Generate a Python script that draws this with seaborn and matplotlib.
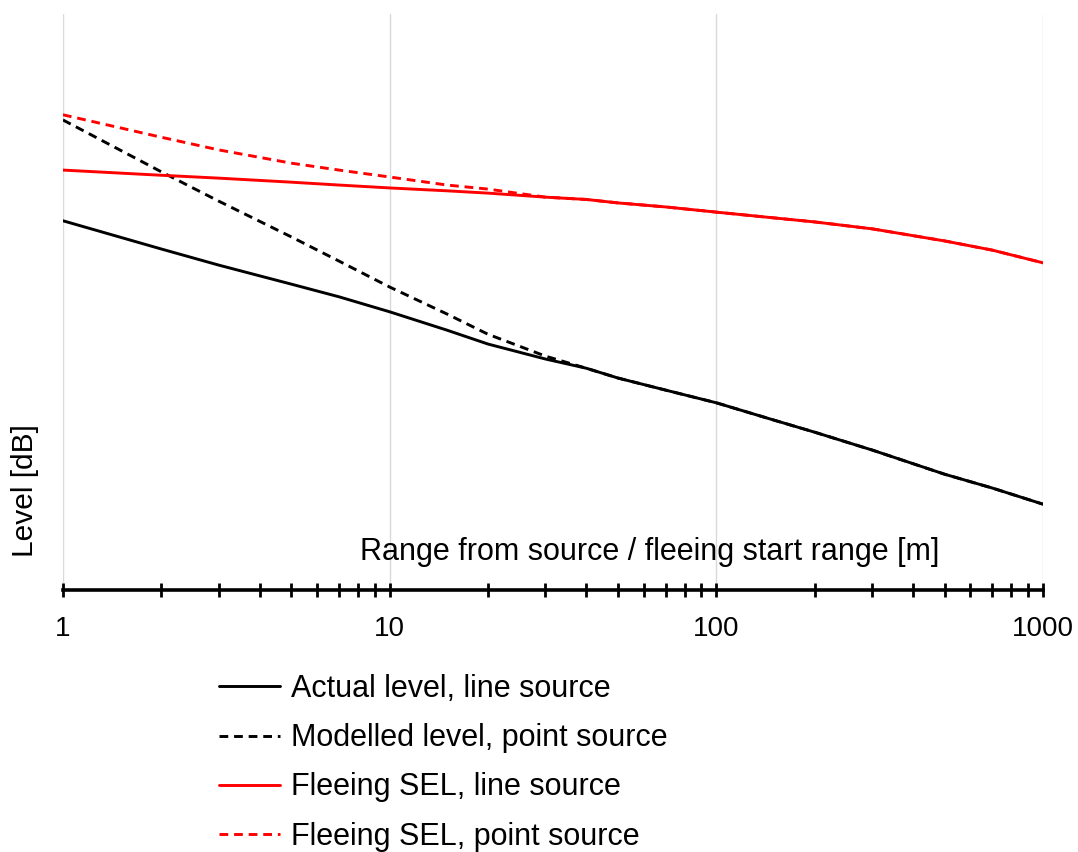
import numpy as np
import pandas as pd
import matplotlib
matplotlib.use("Agg")
import matplotlib.pyplot as plt
import matplotlib.ticker as mticker
import seaborn as sns

# Range [m]
ranges = [1, 2, 3, 5, 7, 10, 15, 20, 30, 40, 50, 70, 100, 150, 200, 300, 500, 700, 1000]

# Levels [dB, relative]
actual_line = [64.1, 59.2, 56.4, 53.1, 50.9, 48.3, 45.1, 42.7, 40.1, 38.5,
               36.8, 34.7, 32.5, 29.5, 27.4, 24.3, 20.1, 17.7, 14.9]
modelled_point = [81.6, 72.6, 67.5, 61.3, 57.1, 52.6, 47.9, 44.4, 40.6, 38.5,
                  36.8, 34.7, 32.5, 29.5, 27.4, 24.3, 20.1, 17.7, 14.9]
fleeing_line = [72.9, 72.0, 71.5, 70.8, 70.3, 69.8, 69.3, 68.9, 68.2, 67.8,
                67.2, 66.5, 65.6, 64.6, 63.9, 62.7, 60.6, 59.0, 56.8]
fleeing_point = [82.5, 78.6, 76.4, 74.1, 72.9, 71.7, 70.3, 69.6, 68.2, 67.8,
                 67.2, 66.5, 65.6, 64.6, 63.9, 62.7, 60.6, 59.0, 56.8]

series_labels = ["Actual level, line source", "Modelled level, point source",
                 "Fleeing SEL, line source", "Fleeing SEL, point source"]
tick_values = [1, 10, 100, 1000]
tick_labels = ["1", "10", "100", "1000"]

sns.set_theme(style="white")
plt.rcParams["font.family"] = ["Liberation Sans", "DejaVu Sans"]
plt.rcParams["text.color"] = "black"

fig = plt.figure(figsize=(10.78, 8.52), dpi=100)
ax = fig.add_axes([0.0584, 0.3075, 0.9091, 0.6761])

dash = (0, (3, 2))
styles = [
    (actual_line, "black", "-"),
    (modelled_point, "black", dash),
    (fleeing_line, "#ff0000", "-"),
    (fleeing_point, "#ff0000", dash),
]
for (vals, col, ls), lab in zip(styles, series_labels):
    df = pd.DataFrame({"range": ranges, "level": vals})
    sns.lineplot(data=df, x="range", y="level", color=col, linestyle=ls,
                 linewidth=2.1, label=lab, ax=ax, legend=False)

ax.set_xscale("log")
ax.set_xlim(1, 1000)
ax.set_ylim(0, 100)

ax.xaxis.set_major_locator(mticker.FixedLocator(tick_values))
ax.xaxis.set_major_formatter(mticker.FixedFormatter(tick_labels))
ax.xaxis.set_minor_locator(mticker.LogLocator(base=10, subs=np.arange(2, 10)))
ax.xaxis.set_minor_formatter(mticker.NullFormatter())
ax.tick_params(axis="x", which="both", direction="inout", length=10, width=2,
               color="black", bottom=True)
ax.tick_params(axis="x", which="major", labelsize=20, pad=14, labelcolor="black")
ax.tick_params(axis="y", left=False, labelleft=False)

ax.grid(True, axis="x", which="major", color="#d9d9d9", linewidth=1.0)
ax.grid(False, axis="y")

for side in ["left", "top", "right"]:
    ax.spines[side].set_visible(False)
ax.spines["bottom"].set_color("black")
ax.spines["bottom"].set_linewidth(2.6)

ax.set_xlabel("Range from source / fleeing start range [m]", fontsize=22,
              color="black")
ax.xaxis.label.set_va("center")
ax.xaxis.set_label_coords(0.599, 0.066)
ax.set_ylabel("Level [dB]", fontsize=21.5, color="black")
ax.yaxis.label.set_va("center")
ax.yaxis.set_label_coords(-0.039, 0.172)

handles, labels = ax.get_legend_handles_labels()
leg = fig.legend(handles, labels, loc="upper left",
                 bbox_to_anchor=(219 / 1078, 1 - 674 / 852), frameon=False,
                 fontsize=22, handlelength=2.0, handletextpad=0.37,
                 labelspacing=0.63, borderpad=0, borderaxespad=0)
for t in leg.get_texts():
    t.set_color("black")

fig.savefig("out.png", dpi=100)
